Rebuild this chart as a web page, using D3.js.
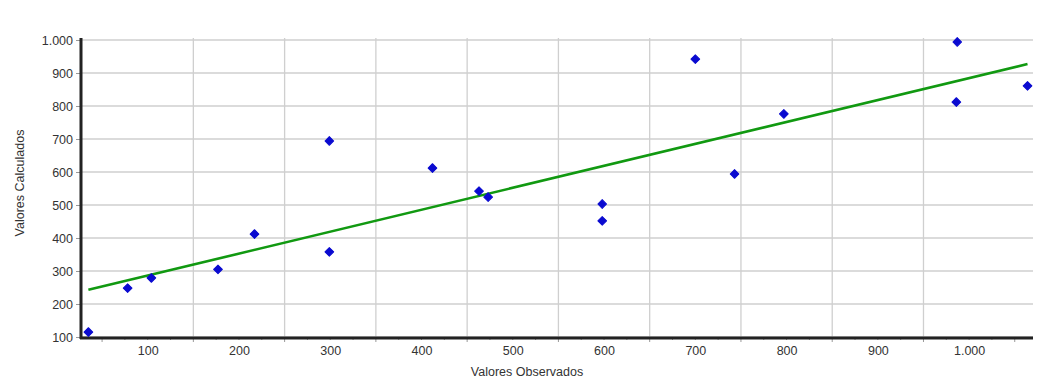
<!DOCTYPE html>
<html>
<head>
<meta charset="utf-8">
<script src="https://cdn.jsdelivr.net/npm/d3@7"></script>
<style>
  body { margin: 0; background: #fff; }
  text { font-family: "Liberation Sans", Arial, sans-serif; fill: #333; }
</style>
</head>
<body>
<svg id="svgfield" width="1040" height="378"></svg>
<script>
var svg = d3.select("#svgfield");

var observed = [35, 78, 104, 177, 217, 299, 299, 412, 463, 473, 598, 598, 700, 743, 797, 986, 987, 1064];
var calculated = [115, 248, 279, 305, 412, 694, 358, 612, 542, 524, 503, 452, 942, 594, 776, 812, 994, 861];

// fitted line end points
var fitX = [35, 1064];
var fitY = [243, 927];

var xTicks = [100, 200, 300, 400, 500, 600, 700, 800, 900, 1000];
var xGrid = [150, 250, 350, 450, 550, 650, 750, 850, 950];
var yTicks = [100, 200, 300, 400, 500, 600, 700, 800, 900, 1000];

var fmt = function(d) { return d >= 1000 ? d3.format(",")(d).replace(",", ".") : d; };

var x = d3.scaleLinear().domain([28, 1070]).range([82, 1033]);
var y = d3.scaleLinear().domain([100, 1000]).range([337, 40]);

// grid
svg.append("g").selectAll("line").data(yTicks).join("line")
    .attr("x1", 82).attr("x2", 1033)
    .attr("y1", function(d){ return y(d); }).attr("y2", function(d){ return y(d); })
    .attr("stroke", "#cfcfcf").attr("stroke-width", 1.3);
svg.append("g").selectAll("line").data(xGrid).join("line")
    .attr("x1", function(d){ return x(d); }).attr("x2", function(d){ return x(d); })
    .attr("y1", 38).attr("y2", 337)
    .attr("stroke", "#cfcfcf").attr("stroke-width", 1.3);

// x axis
var xaxis = d3.axisBottom(x).tickValues(xTicks).tickFormat(fmt).tickSize(0).tickPadding(9);
var gx = svg.append("g").attr("transform", "translate(0,337)").call(xaxis);
gx.select(".domain").remove();
gx.selectAll("text").style("font-size", "12.5px").attr("fill", "#333");

var minor = d3.range(50, 1070, 25);
svg.append("g").selectAll("line").data(minor).join("line")
    .attr("x1", function(d){ return x(d); }).attr("x2", function(d){ return x(d); })
    .attr("y1", 337).attr("y2", function(d){ return d % 100 === 50 ? 342 : 340; })
    .attr("stroke", "#999");

// y axis
var yaxis = d3.axisLeft(y).tickValues(yTicks).tickFormat(fmt).tickSize(4).tickPadding(3);
var gy = svg.append("g").attr("transform", "translate(80,0)").call(yaxis);
gy.select(".domain").remove();
gy.selectAll("line").attr("stroke", "#999");
gy.selectAll("text").style("font-size", "12.5px").attr("fill", "#333");

svg.append("line").attr("x1", 81).attr("x2", 81).attr("y1", 38).attr("y2", 339)
    .attr("stroke", "#222").attr("stroke-width", 3);
svg.append("line").attr("x1", 80).attr("x2", 1033).attr("y1", 338).attr("y2", 338)
    .attr("stroke", "#222").attr("stroke-width", 3);

// fitted line
svg.append("path")
    .datum(d3.zip(fitX, fitY))
    .attr("d", d3.line().x(function(d){ return x(d[0]); }).y(function(d){ return y(d[1]); }))
    .attr("stroke", "#119911").attr("stroke-width", 2.6).attr("fill", "none");

// points
svg.append("g").selectAll("path").data(d3.zip(observed, calculated)).join("path")
    .attr("transform", function(d){ return "translate(" + x(d[0]) + "," + y(d[1]) + ") rotate(45)"; })
    .attr("d", d3.symbol().type(d3.symbolSquare).size(38))
    .attr("fill", "#0a0ad0").attr("stroke", "#0a0ad0").attr("stroke-width", 1).attr("stroke-linejoin", "round");

// titles
svg.append("text").attr("x", 527).attr("y", 376).style("text-anchor", "middle")
    .style("font-size", "12.5px").text("Valores Observados");
svg.append("text").attr("transform", "rotate(-90)").attr("x", -183).attr("y", 24)
    .style("text-anchor", "middle").style("font-size", "12.5px").text("Valores Calculados");
</script>
</body>
</html>
